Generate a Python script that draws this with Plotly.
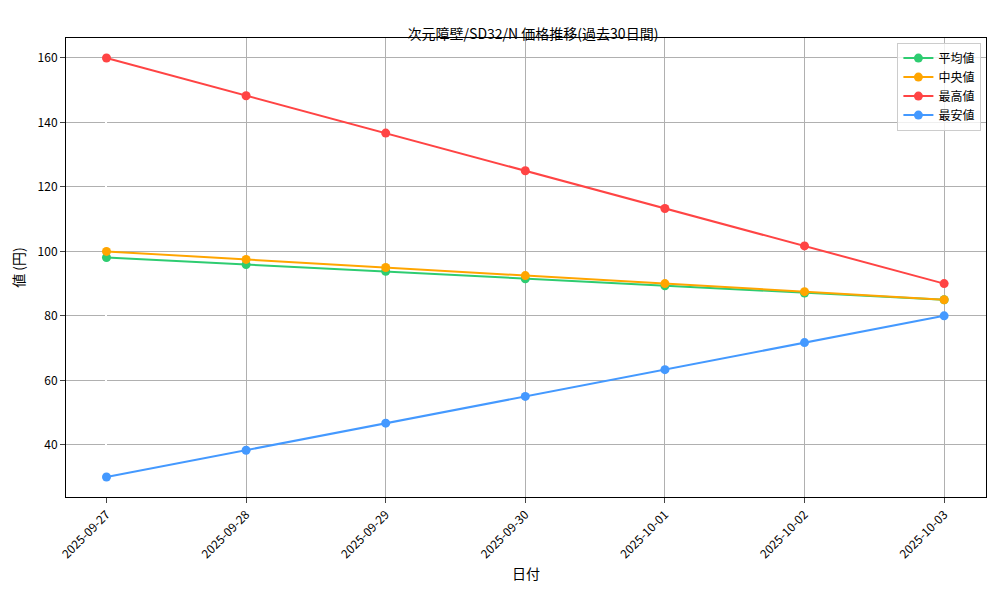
import plotly.graph_objects as go

dates = ['2025-09-27', '2025-09-28', '2025-09-29', '2025-09-30', '2025-10-01', '2025-10-02', '2025-10-03']
meanVals = [98.1, 95.9, 93.8, 91.5, 89.3, 87.1, 85.0]
medianVals = [100, 97.5, 95, 92.5, 90, 87.5, 85]
maxVals = [160, 148.3, 136.7, 125, 113.3, 101.7, 90]
minVals = [30, 38.3, 46.7, 55, 63.3, 71.7, 80]

seriesNames = ['平均値', '中央値', '最高値', '最安値']
colors = ['#2ecc71', '#ffa500', '#ff4444', '#4499ff']

font = 'Noto Sans CJK JP'
fig = go.Figure()
for name, vals, c in zip(seriesNames, [meanVals, medianVals, maxVals, minVals], colors):
    fig.add_trace(go.Scatter(x=list(range(len(dates))), y=vals, mode='lines+markers', name=name,
                             line=dict(color=c, width=2), marker=dict(color=c, size=9)))

fig.update_layout(
    width=1000, height=600, plot_bgcolor='white', paper_bgcolor='white',
    margin=dict(l=58, r=22, t=30, b=111),
    font=dict(family=font, size=12, color='black'),
    title=dict(text='次元障壁/SD32/N 価格推移(過去30日間)', x=0.525, xanchor='center', y=0.965, font=dict(size=14)),
    legend=dict(x=0.995, y=0.99, xanchor='right', yanchor='top', bordercolor='#cccccc', borderwidth=1,
                bgcolor='rgba(255,255,255,0.8)'),
)
fig.update_xaxes(range=[-0.29, 6.3], tickmode='array', tickvals=list(range(len(dates))), ticktext=dates,
                 tickangle=-45, showgrid=True, gridcolor='#b0b0b0', showline=True, linecolor='black',
                 mirror=True, ticks='outside', automargin=False, tickfont=dict(size=12),
                 title=dict(text='日付', standoff=8))
fig.update_yaxes(range=[23.8, 166.2], tickvals=[40, 60, 80, 100, 120, 140, 160], showgrid=True,
                 gridcolor='#b0b0b0', showline=True, linecolor='black', mirror=True, ticks='outside',
                 zeroline=False, automargin=False, title=dict(text='値 (円)', standoff=10))

fig.write_html('out.html')
